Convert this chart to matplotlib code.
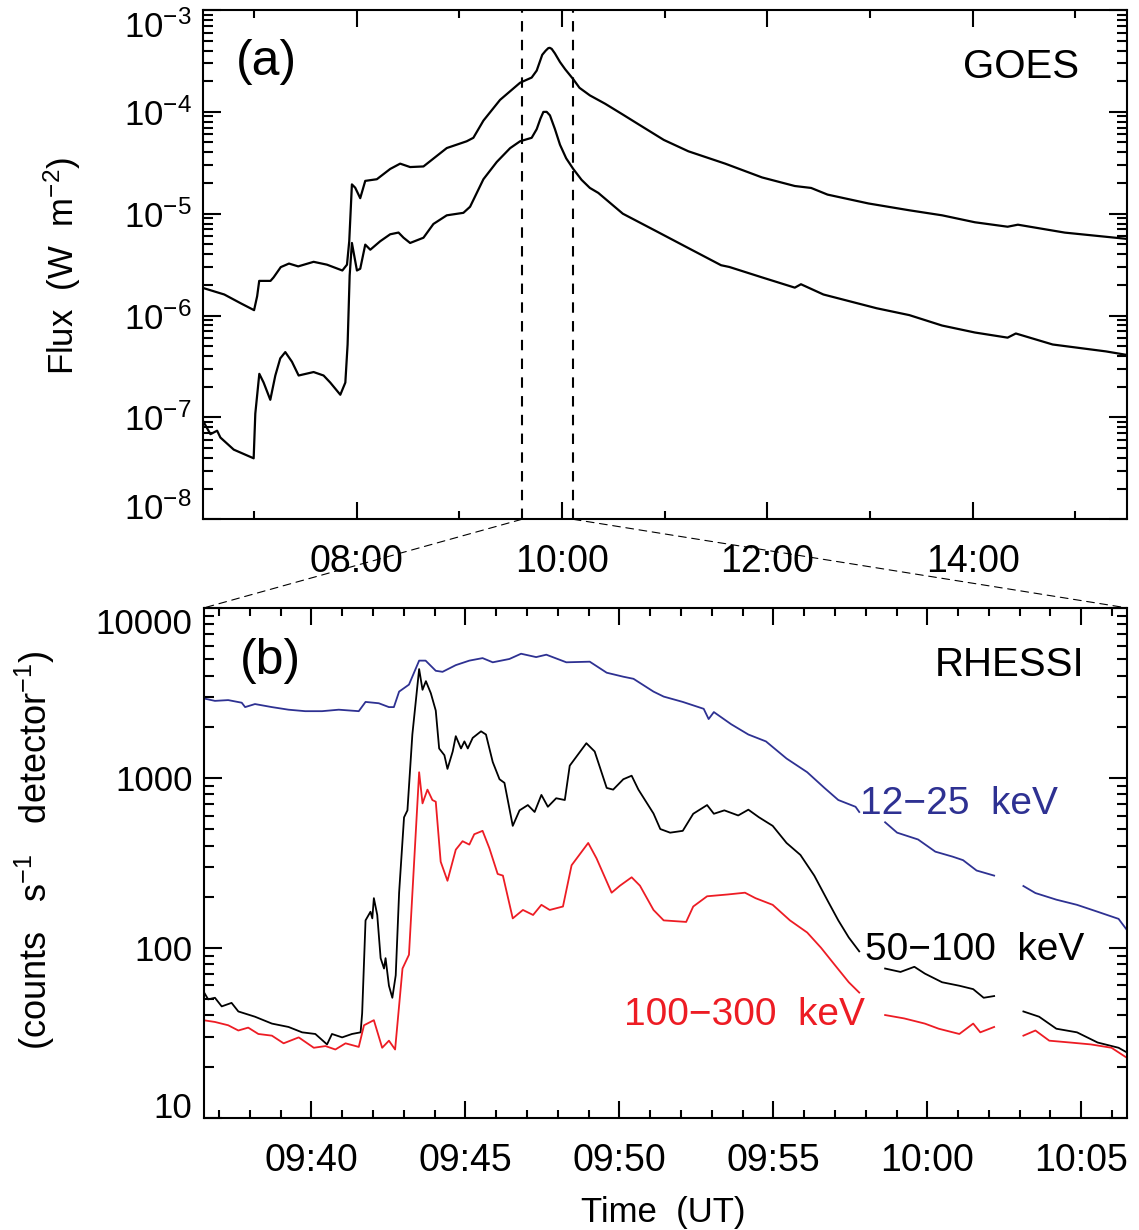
import numpy as np
import matplotlib
matplotlib.use("Agg")
import matplotlib.pyplot as plt
from matplotlib.ticker import (MultipleLocator, FuncFormatter, LogLocator,
                               NullFormatter, LogFormatterMathtext)
from matplotlib.patches import ConnectionPatch

plt.rcParams['font.family'] = 'Liberation Sans'
plt.rcParams['mathtext.fontset'] = 'custom'
plt.rcParams['mathtext.rm'] = 'Liberation Sans'
plt.rcParams['mathtext.it'] = 'Liberation Sans:italic'
plt.rcParams['mathtext.default'] = 'regular'

nan = np.nan

# GOES soft X-ray flux, time in hours UT
goes_long_t = [6.50, 6.71, 6.87, 7.00, 7.03, 7.05, 7.16, 7.19, 7.26, 7.34,
               7.43, 7.58, 7.71, 7.86, 7.905, 7.927, 7.953, 7.985, 8.034, 8.083,
               8.196, 8.326, 8.423, 8.52, 8.65, 8.877, 9.071, 9.136, 9.234, 9.396,
               9.591, 9.704, 9.753, 9.807, 9.84, 9.866, 9.88, 9.899, 9.93, 9.98,
               10.03, 10.109, 10.17, 10.271, 10.42, 10.592, 10.758, 10.991, 11.23, 11.589,
               11.948, 12.267, 12.426, 12.586, 12.985, 13.383, 13.702, 14.021, 14.34, 14.44,
               14.898, 15.5]
goes_long = [1.87e-6, 1.61e-6, 1.32e-6, 1.13e-6, 1.55e-6, 2.19e-6, 2.19e-6, 2.37e-6, 2.99e-6, 3.24e-6,
             3.04e-6, 3.37e-6, 3.16e-6, 2.77e-6, 3.16e-6, 5.37e-6, 1.94e-5, 1.80e-5, 1.42e-5, 2.10e-5,
             2.18e-5, 2.75e-5, 3.10e-5, 2.87e-5, 2.91e-5, 4.41e-5, 5.14e-5, 5.56e-5, 8.20e-5, 1.31e-4,
             1.93e-4, 2.17e-4, 2.54e-4, 3.63e-4, 3.98e-4, 4.22e-4, 4.25e-4, 4.15e-4, 3.75e-4, 3.08e-4,
             2.62e-4, 2.09e-4, 1.72e-4, 1.45e-4, 1.20e-4, 9.40e-5, 7.40e-5, 5.30e-5, 4.10e-5, 3.10e-5,
             2.27e-5, 1.87e-5, 1.79e-5, 1.54e-5, 1.26e-5, 1.08e-5, 9.64e-6, 8.24e-6, 7.45e-6, 7.80e-6,
             6.52e-6, 5.66e-6]

goes_short_t = [6.50, 6.575, 6.64, 6.672, 6.802, 6.996, 7.012, 7.051, 7.093, 7.158,
                7.207, 7.255, 7.304, 7.369, 7.434, 7.58, 7.677, 7.742, 7.84, 7.889,
                7.911, 7.931, 7.953, 8.002, 8.034, 8.083, 8.132, 8.229, 8.326, 8.407,
                8.456, 8.52, 8.65, 8.747, 8.877, 9.039, 9.104, 9.234, 9.364, 9.494,
                9.591, 9.704, 9.753, 9.79, 9.818, 9.85, 9.882, 9.93, 9.98, 10.04,
                10.109, 10.19, 10.271, 10.353, 10.592, 10.911, 11.23, 11.549, 11.629, 11.948,
                12.267, 12.327, 12.546, 13.064, 13.383, 13.702, 14.021, 14.34, 14.42, 14.779,
                15.297, 15.5]
goes_short = [9.35e-8, 6.85e-8, 7.41e-8, 6.35e-8, 4.83e-8, 3.97e-8, 1.09e-7, 2.68e-7, 2.20e-7, 1.49e-7,
              2.58e-7, 3.80e-7, 4.38e-7, 3.52e-7, 2.58e-7, 2.79e-7, 2.58e-7, 2.20e-7, 1.67e-7, 2.20e-7,
              5.19e-7, 2.47e-6, 5.16e-6, 2.77e-6, 2.88e-6, 4.97e-6, 4.43e-6, 5.37e-6, 6.28e-6, 6.53e-6,
              5.81e-6, 5.16e-6, 5.81e-6, 7.93e-6, 9.64e-6, 1.02e-5, 1.17e-5, 2.18e-5, 3.22e-5, 4.40e-5,
              5.14e-5, 5.56e-5, 6.76e-5, 8.60e-5, 9.98e-5, 1.00e-4, 9.23e-5, 6.80e-5, 4.75e-5, 3.50e-5,
              2.75e-5, 2.15e-5, 1.79e-5, 1.60e-5, 1.00e-5, 6.79e-6, 4.60e-6, 3.12e-6, 3.00e-6, 2.37e-6,
              1.88e-6, 2.03e-6, 1.61e-6, 1.18e-6, 1.01e-6, 7.98e-7, 6.82e-7, 6.07e-7, 6.67e-7, 5.20e-7,
              4.45e-7, 4.11e-7]

# window marked in (a), hours UT
zoom_start = 9.6083
zoom_end = 10.1083

# RHESSI count rates, time in minutes after 09:00 UT (nan = data gap)
t_12_25 = [36.49, 36.87, 37.3, 37.74, 37.85, 38.17, 38.72, 39.26, 39.8, 40.35,
           40.89, 41.54, 41.76, 42.19, 42.52, 42.68, 42.85, 43.17, 43.5, 43.71,
           44.04, 44.26, 44.69, 45.13, 45.56, 45.89, 46.43, 46.81, 47.3, 47.63,
           48.28, 49.04, 49.59, 50.13, 50.46, 51.11, 51.44, 52.06, 52.74, 52.9,
           53.07, 53.63, 54.19, 54.76, 55.43, 56.1, 56.66, 57.11, 57.67, 57.79,
           58.2, 58.63, 59.02, 59.7, 60.26, 60.82, 61.16, 61.6, 62.17, 62.6,
           63.12, 63.51, 64.19, 64.86, 65.53, 66.21, 66.5]
c_12_25 = [2940, 2840, 2870, 2770, 2610, 2720, 2610, 2520, 2470, 2470,
           2520, 2470, 2800, 2750, 2610, 2610, 3220, 3540, 4900, 4900,
           4270, 4210, 4610, 4900, 5070, 4790, 5010, 5380, 5140, 5310,
           4790, 4830, 4160, 3940, 3830, 3220, 3010, 2800, 2550, 2220,
           2440, 2070, 1800, 1640, 1300, 1080, 873, 741, 676, 630,
           nan, 548, 476, 434, 368, 344, 328, 285, 266, nan,
           231, 210, 192, 179, 163, 148, 126]

t_50_100 = [36.49, 36.65, 36.87, 37.09, 37.41, 37.63, 38.17, 38.72, 39.26, 39.7,
            40.13, 40.51, 40.67, 41.0, 41.32, 41.6, 41.65, 41.76, 41.92, 41.98,
            42.03, 42.14, 42.25, 42.36, 42.41, 42.52, 42.63, 42.74, 42.85, 43.01,
            43.12, 43.28, 43.5, 43.61, 43.72, 43.88, 44.04, 44.15, 44.32, 44.42,
            44.59, 44.69, 44.86, 44.97, 45.08, 45.24, 45.51, 45.67, 45.89, 46.11,
            46.27, 46.54, 46.76, 47.03, 47.25, 47.47, 47.68, 47.95, 48.23, 48.39,
            48.93, 49.2, 49.59, 49.8, 50.13, 50.4, 50.62, 51.11, 51.33, 51.65,
            52.06, 52.4, 52.85, 53.07, 53.41, 53.86, 54.19, 54.53, 54.98, 55.43,
            55.88, 56.33, 56.78, 57.11, 57.45, 57.79, 58.2, 58.63, 59.13, 59.58,
            59.92, 60.48, 61.04, 61.49, 61.83, 62.17, 62.6, 63.12, 63.63, 64.19,
            64.86, 65.53, 66.21, 66.5]
c_50_100 = [55.7, 49.7, 50.8, 45.2, 47.4, 42.2, 39.3, 35.8, 34.2, 31.8,
            31.1, 27.0, 31.1, 29.7, 31.1, 31.8, 41.2, 145, 163, 149,
            196, 156, 86.9, 75.5, 86.9, 59.8, 50.8, 68.9, 211, 586,
            644, 1800, 4370, 3300, 3710, 3150, 2490, 1490, 1360, 1130,
            1430, 1760, 1490, 1640, 1490, 1720, 1880, 1800, 1240, 982,
            935, 522, 644, 692, 630, 794, 676, 759, 741, 1180,
            1600, 1430, 873, 853, 982, 1030, 853, 617, 500, 476,
            488, 615, 692, 615, 644, 601, 650, 587, 522, 414,
            352, 266, 187, 145, 115, 95.3, nan, 75.5, 72.1, 77.3,
            70.5, 62.7, 59.8, 57.1, 50.8, 52.0, nan, 42.2, 39.3, 33.4,
            31.8, 27.7, 25.8, 24.1]

t_100_300 = [36.49, 36.87, 37.3, 37.63, 37.95, 38.28, 38.72, 39.1, 39.59, 40.08,
             40.46, 40.78, 41.11, 41.54, 41.71, 42.03, 42.3, 42.52, 42.72, 42.96,
             43.17, 43.5, 43.61, 43.77, 43.93, 44.04, 44.2, 44.42, 44.69, 44.91,
             45.13, 45.29, 45.56, 45.78, 46.05, 46.22, 46.54, 46.87, 47.2, 47.47,
             47.74, 48.17, 48.45, 48.99, 49.26, 49.75, 50.02, 50.4, 50.67, 51.11,
             51.44, 52.17, 52.4, 52.85, 53.52, 54.08, 54.42, 54.98, 55.54, 56.1,
             56.55, 57.0, 57.45, 57.79, 58.2, 58.63, 59.25, 59.92, 60.37, 61.04,
             61.49, 61.72, 62.17, 62.6, 63.12, 63.51, 63.96, 64.64, 65.31, 65.98,
             66.5]
c_100_300 = [37.5, 36.6, 35.0, 32.6, 33.9, 31.1, 30.4, 27.4, 29.7, 25.8,
             26.4, 25.2, 27.4, 26.1, 35.0, 37.5, 25.8, 28.4, 25.2, 75.5,
             91.0, 1080, 708, 853, 741, 724, 321, 248, 378, 424,
             405, 466, 488, 386, 272, 266, 149, 167, 156, 179,
             167, 175, 306, 414, 336, 211, 232, 260, 232, 167,
             145, 142, 175, 201, 206, 211, 196, 179, 145, 123,
             100, 79.1, 62.7, 54.5, nan, 40.2, 38.4, 35.8, 33.4, 31.1,
             35.8, 31.8, 34.2, nan, 30.4, 32.6, 28.4, 27.7, 27.0, 25.8,
             22.4]

blue = '#2e3192'
red = '#ed1c24'

fig = plt.figure(figsize=(11.39, 12.30), dpi=100)
ax1 = fig.add_axes([0.1780, 0.5778, 0.8112, 0.4141])
ax2 = fig.add_axes([0.1787, 0.0913, 0.8112, 0.4144])


def style(ax):
    for s in ax.spines.values():
        s.set_linewidth(1.5)
    ax.tick_params(which='both', direction='in', top=True, right=True, width=1.5)
    ax.tick_params(axis='x', which='major', length=12.5, labelsize=27, pad=18)
    ax.tick_params(axis='x', which='minor', length=6)
    ax.tick_params(axis='y', which='major', length=13, labelsize=25, pad=8)
    ax.tick_params(axis='y', which='minor', length=7)


# (a) GOES
ax1.plot(goes_long_t, goes_long, color='k', lw=1.6)
ax1.plot(goes_short_t, goes_short, color='k', lw=1.6)
ax1.axvline(zoom_start, color='k', lw=1.5, ls=(0, (5, 4)))
ax1.axvline(zoom_end, color='k', lw=1.5, ls=(0, (5, 4)))
ax1.set_yscale('log')
ax1.set_xlim(6.5, 15.5)
ax1.set_ylim(1e-8, 1e-3)
ax1.xaxis.set_major_locator(MultipleLocator(2))
ax1.xaxis.set_minor_locator(MultipleLocator(1))
ax1.xaxis.set_major_formatter(FuncFormatter(lambda h, pos: f"{int(round(h)):02d}:00"))
ax1.set_yticks([1e-8, 1e-7, 1e-6, 1e-5, 1e-4, 1e-3])
ax1.yaxis.set_minor_locator(LogLocator(base=10, subs=np.arange(2, 10), numticks=20))
ax1.yaxis.set_major_formatter(LogFormatterMathtext())
ax1.yaxis.set_minor_formatter(NullFormatter())
style(ax1)
ax1.text(0.0354, 0.872, '(a)', transform=ax1.transAxes, fontsize=36, va='baseline')
ax1.text(0.949, 0.867, 'GOES', transform=ax1.transAxes, fontsize=29, va='baseline', ha='right')

# (b) RHESSI
ax2.plot(t_12_25, c_12_25, color=blue, lw=1.3)
ax2.plot(t_50_100, c_50_100, color='k', lw=1.3)
ax2.plot(t_100_300, c_100_300, color=red, lw=1.3)
ax2.set_yscale('log')
ax2.set_xlim(36.5, 66.5)
ax2.set_ylim(10, 10000)
ax2.xaxis.set_major_locator(MultipleLocator(5))
ax2.xaxis.set_minor_locator(MultipleLocator(1))
ax2.xaxis.set_major_formatter(FuncFormatter(
    lambda m, pos: f"{9 + int(round(m)) // 60:02d}:{int(round(m)) % 60:02d}"))
ax2.set_yticks([10, 100, 1000, 10000])
ax2.set_yticklabels(['10', '100', '1000', '10000'])
ax2.yaxis.set_minor_locator(LogLocator(base=10, subs=np.arange(2, 10), numticks=20))
ax2.yaxis.set_minor_formatter(NullFormatter())
style(ax2)
ax2.text(0.0395, 0.871, '(b)', transform=ax2.transAxes, fontsize=36, va='baseline')
ax2.text(0.953, 0.867, 'RHESSI', transform=ax2.transAxes, fontsize=29, va='baseline', ha='right')
ax2.text(0.7105, 0.596, '12\u221225  keV', transform=ax2.transAxes, fontsize=28,
         va='baseline', color=blue)
ax2.text(0.716, 0.310, '50\u2212100  keV', transform=ax2.transAxes, fontsize=28,
         va='baseline', color='k')
ax2.text(0.455, 0.181, '100\u2212300  keV', transform=ax2.transAxes, fontsize=28,
         va='baseline', color=red)

# keep end labels inside the frame like the original
for ax in (ax1, ax2):
    ticks = ax.yaxis.get_major_ticks()
    ticks[0].label1.set_va('baseline')
    ticks[-1].label1.set_va('top')

# dashed lines joining the marked window to panel (b)
for xa, xb in [(zoom_start, 0), (zoom_end, 1)]:
    con = ConnectionPatch(xyA=(xa, 1e-8), coordsA=ax1.transData,
                          xyB=(xb, 1), coordsB=ax2.transAxes,
                          color='k', lw=0.8, linestyle=(0, (7, 5)))
    fig.add_artist(con)

fig.text(0.0544, 0.7837, 'Flux  (W  m$^{\u22122}$)', rotation=90, fontsize=25,
         ha='center', va='center')
fig.text(0.0307, 0.309, '(counts   s$^{\u22121}$   detector$^{\u22121}$)', rotation=90,
         fontsize=26, ha='center', va='center')
fig.text(0.582, 0.0068, 'Time  (UT)', fontsize=25, ha='center', va='baseline')

fig.savefig('out.png', dpi=100)
